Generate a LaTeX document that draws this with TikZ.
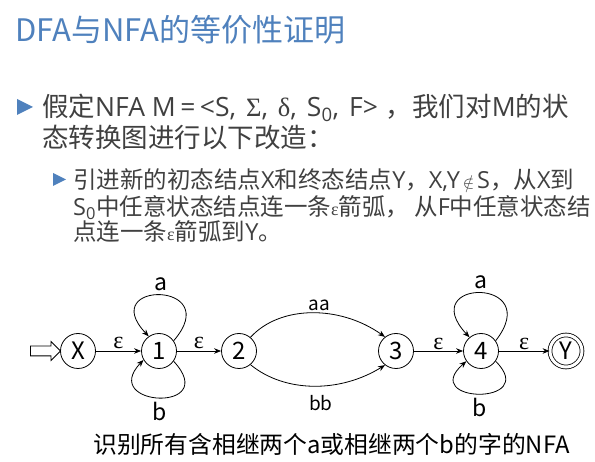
\documentclass[tikz,border=0pt]{standalone}
\usepackage{fontspec}
\setmainfont{Noto Sans CJK SC}
\newfontfamily\lat{Open Sans}
\newfontfamily\grk{Liberation Serif}
\usetikzlibrary{arrows.meta,shapes.arrows}
\definecolor{titleblue}{RGB}{79,129,189}
\definecolor{textgray}{RGB}{64,64,64}
\tikzset{
  state/.style={draw, circle, minimum size=35pt, inner sep=0pt, line width=0.8pt, font=\fontsize{24}{24}\selectfont},
  accept/.style={state, minimum size=32pt, double, double distance=3pt},
  trans/.style={-{Stealth[length=7pt,width=5.5pt]}, line width=0.8pt},
  lab/.style={font=\fontsize{23}{23}\selectfont, inner sep=1pt},
  eps/.style={font=\fontsize{24}{24}\grk, inner sep=1pt},
  lablong/.style={font=\fontsize{19}{19}\selectfont, inner sep=1pt},
  line1/.style={anchor=base west, inner sep=0pt, text=textgray, font=\fontsize{26.5}{31}\selectfont},
  line2/.style={anchor=base west, inner sep=0pt, text=textgray, font=\fontsize{23.5}{27}\selectfont},
}
\newcommand{\smallsym}[1]{{\fontsize{17}{17}\selectfont\,$#1$\,}}
\newcommand{\smalleps}{{\fontsize{18}{18}\grk ε}}
\newcommand{\gap}{\hspace{10pt}}

\begin{document}
\begin{tikzpicture}[x=1pt, y=-1pt]
			%%%%% START %%%%%
			\useasboundingbox (0, 0) rectangle (595, 462);
			
			% title
			\node[anchor=base west, inner sep=0pt, text=titleblue, font=\fontsize{31}{31}\selectfont] (title) at (15, 42) {DFA与NFA的等价性证明};
			
			% first bullet
			\fill[titleblue] (17, 99) -- (33, 107) -- (17, 115) -- cycle;
			\node[line1] (itemA) at (42, 117) {假定{\lat NFA M\,=\,<S,\gap}{\grk Σ}{\lat ,\gap}{\grk δ}{\lat ,\gap S\textsubscript{0},\gap F>}\hspace{8pt}，我们对{\lat M}的状};
			\node[line1] (itemB) at (42, 148) {态转换图进行以下改造：};
			
			% second bullet
			\fill[titleblue] (53, 173) -- (66, 179.5) -- (53, 186) -- cycle;
			\node[line2] (subA) at (73, 189) {引进新的初态结点{\lat X}和终态结点{\lat Y}，{\lat X,Y}\smallsym{\notin}{\lat S}，从{\lat X}到};
			\node[line2] (subB) at (73, 216) {{\lat S\textsubscript{0}}中任意状态结点连一条\smalleps 箭弧， 从{\lat F}中任意状态结};
			\node[line2] (subC) at (73, 241) {点连一条\smalleps 箭弧到{\lat Y}。};
			
			% automaton
			\node[draw, single arrow, minimum height=30pt, single arrow head extend=4.5pt, inner xsep=0pt, inner ysep=4.5pt, line width=0.8pt] (entry) at (43, 351) {};
			\node[state] (X) at (78, 351) {X};
			\node[state] (n1) at (159, 351) {1};
			\node[state] (n2) at (239, 351) {2};
			\node[state] (n3) at (396, 351) {3};
			\node[state] (n4) at (481, 351) {4};
			\node[accept] (Y) at (566, 351) {Y};
			
			\draw[trans] (X) -- node[eps, above=1pt] {ε} (n1);
			\draw[trans] (n1) -- node[eps, above=1pt] {ε} (n2);
			\draw[trans] (n3) -- node[eps, above=0pt] {ε} (n4);
			\draw[trans] (n4) -- node[eps, above=0pt] {ε} (Y);
			
			\draw[trans] (n1.35) .. controls +(52, -60) and +(-53, -56) .. (n1.125) node[lab, pos=0.5, above=3pt] {a};
			\draw[trans] (n1.-35) .. controls +(48, 52) and +(-45, 47) .. (n1.-150) node[lab, pos=0.5, below=3pt] {b};
			\draw[trans] (n4.35) .. controls +(50, -64) and +(-55, -59) .. (n4.130) node[lab, pos=0.5, above=3pt] {a};
			\draw[trans] (n4.-35) .. controls +(45, 45) and +(-48, 42) .. (n4.-145) node[lab, pos=0.5, below=3pt] {b};
			
			\draw[trans] (n2.50) .. controls (280, 305) and (340, 305) .. (n3.128) node[lablong, pos=0.55, above=1pt] {aa};
			\draw[trans] (n2.-50) .. controls (285, 393) and (340, 393) .. (n3.-128) node[lablong, pos=0.55, below=8pt] {bb};
			
			% caption
			\node[anchor=base west, inner sep=0pt, font=\fontsize{23.8}{24}\selectfont] (caption) at (93, 454) {识别所有含相继两个a或相继两个b的字的NFA};
			%%%%% END %%%%%
\end{tikzpicture}
\end{document}
